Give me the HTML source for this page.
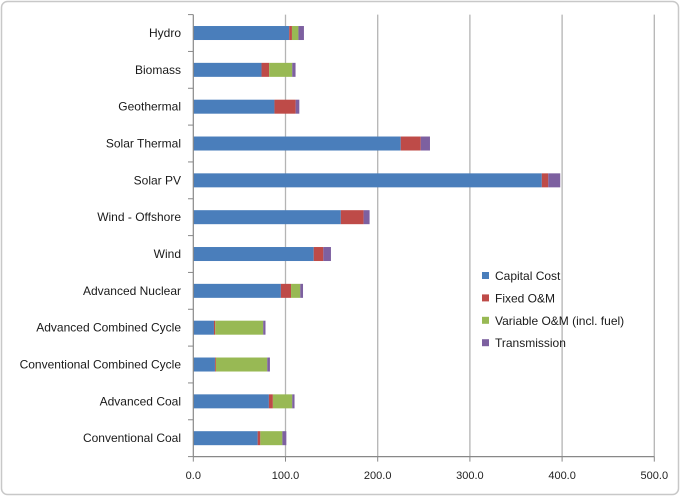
<!DOCTYPE html>
<html><head><meta charset="utf-8"><style>
body{margin:0;background:#fff;}
svg{display:block;font-family:"Liberation Sans",sans-serif;}
</style></head><body>
<svg id="chart" width="680" height="496" viewBox="0 0 680 496">
<rect x="1.5" y="1.5" width="677" height="493" rx="6" fill="#fff" stroke="#c8c8c8" stroke-width="1.5"/>
<g id="grid"></g><g id="bars"></g><g id="axes"></g><g id="legend"></g>
</svg>
<script>
const categories=["Hydro","Biomass","Geothermal","Solar Thermal","Solar PV","Wind - Offshore","Wind","Advanced Nuclear","Advanced Combined Cycle","Conventional Combined Cycle","Advanced Coal","Conventional Coal"];
const capital=[104,74,88,225,378,160,130.6,95,22.4,23.5,82,69.8];
const fixedOM=[3,8.3,23,21.7,7,24.7,10.4,11,1.4,1,4.3,2.9];
const variableOM=[7,25,0,0,0,0,0,10,52,55.7,21,23.9];
const transmission=[6,3.6,4,10,13,6.5,8.3,3,2.5,2.9,2.5,4.3];
const ticks=[0,100,200,300,400,500];
const tickLabels=["0.0","100.0","200.0","300.0","400.0","500.0"];
const seriesNames=["Capital Cost","Fixed O&M","Variable O&M (incl. fuel)","Transmission"];
const colors=["#4a7ebb","#be4b48","#98b954","#7d60a0"];
const NS="http://www.w3.org/2000/svg";
const x0=193.3,xs=0.922,yTop=14.6,yBot=456.6,step=(yBot-yTop)/categories.length,bh=14;
const X=v=>x0+v*xs, Y=i=>yTop+step*(i+0.5);
function mk(t,a,p){const e=document.createElementNS(NS,t);for(const k in a)e.setAttribute(k,a[k]);p.appendChild(e);return e;}
const grid=document.getElementById('grid'),bars=document.getElementById('bars'),axes=document.getElementById('axes'),leg=document.getElementById('legend');
ticks.forEach((t,i)=>{
 if(t>0){const g=mk('line',{x1:X(t),x2:X(t),y1:yTop,y2:yBot,stroke:'#b4b4b4','stroke-width':1.3},grid);
 
 }
 const l=mk('text',{x:X(t),y:479,'text-anchor':'middle','font-size':11,fill:'#222'},axes);l.textContent=tickLabels[i];
 
 
 mk('line',{x1:X(t),x2:X(t),y1:yBot,y2:yBot+5,stroke:'#888'},axes);
});
const series=[capital,fixedOM,variableOM,transmission];
categories.forEach((c,i)=>{
 let acc=0;
 series.forEach((s,k)=>{const v=s[i];if(v>0){const r=mk('rect',{x:X(acc),y:Y(i)-bh/2,width:v*xs,height:bh,fill:colors[k]},bars);
 
 }acc+=v;});
 const t=mk('text',{x:181,y:Y(i)+4,'text-anchor':'end','font-size':12,fill:'#1a1a1a'},axes);t.textContent=c;
 
 
});
for(let i=0;i<=categories.length;i++){mk('line',{x1:188,x2:x0,y1:yTop+step*i,y2:yTop+step*i,stroke:'#888'},axes);}
mk('line',{x1:x0,x2:x0,y1:yTop,y2:yBot,stroke:'#888','stroke-width':1.2},axes);
mk('line',{x1:x0,x2:X(500),y1:yBot,y2:yBot,stroke:'#888','stroke-width':1.2},axes);
seriesNames.forEach((n,k)=>{const y=276+k*22.4;
 const s=mk('rect',{x:482,y:y-4,width:7,height:7,fill:colors[k]},leg);
 
 
 const t=mk('text',{x:495,y:y+4,'font-size':12,fill:'#1a1a1a'},leg);t.textContent=n;
 
 
});
</script>
</body></html>
